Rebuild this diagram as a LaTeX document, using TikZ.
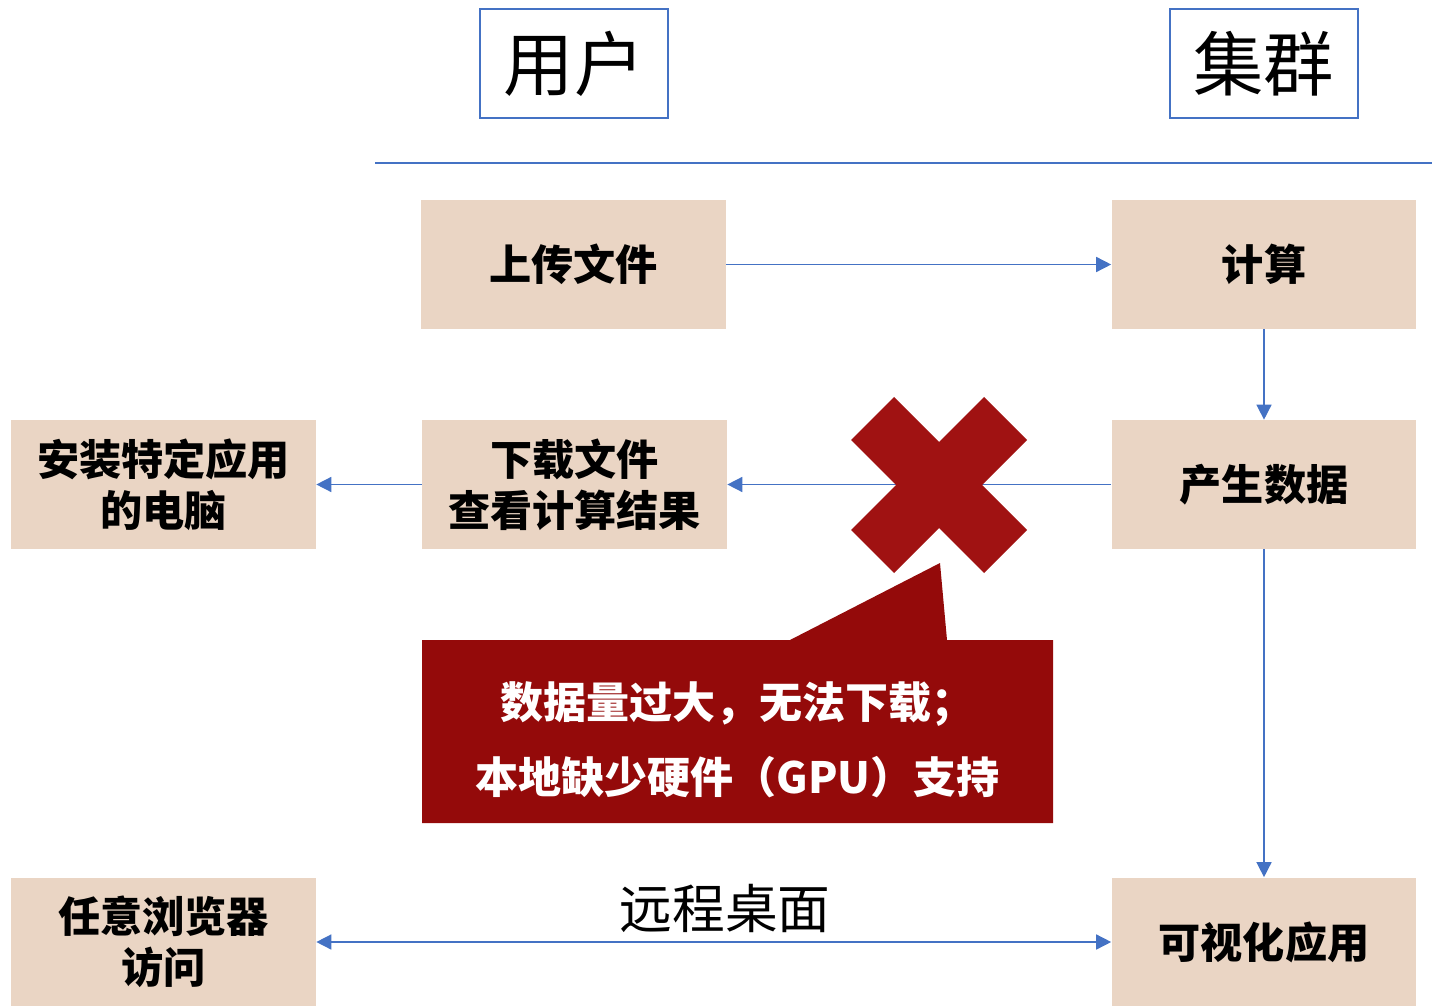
\documentclass[tikz,border=0pt]{standalone}
\usepackage{fontspec}
\setmainfont{Noto Sans CJK SC}
\usetikzlibrary{arrows.meta, positioning}
\definecolor{boxfill}{HTML}{EAD5C4}
\definecolor{linkblue}{HTML}{4472C4}
\definecolor{crossred}{HTML}{A01212}
\definecolor{notered}{HTML}{940A0A}
\tikzset{
  stepbox/.style={
    fill = boxfill,
    minimum width = 6.1cm,
    minimum height = 2.58cm,
    inner sep = 0,
    align = center,
    font = \fontsize{24}{29}\selectfont\bfseries
  },
  sidehead/.style={
    draw = linkblue,
    line width = 0.04cm,
    minimum width = 3.76cm,
    minimum height = 2.18cm,
    inner sep = 0,
    font = \fontsize{40}{42}\selectfont
  },
  flow/.style={
    draw = linkblue,
    line width = 0.03cm,
    arrows = {-Triangle[length=0.3cm, width=0.3cm]}
  },
  twoway/.style={
    flow,
    arrows = {Triangle[length=0.3cm, width=0.3cm]-Triangle[length=0.3cm, width=0.3cm]}
  },
  notetext/.style={
    text = white,
    align = center,
    font = \fontsize{24.5}{43}\selectfont\bfseries
  }
}

\begin{document}
\begin{tikzpicture}[x=0.02cm, y=-0.02cm]
    \useasboundingbox (0,0) rectangle (1432,1006);
    % headings
    \node[sidehead] (user) at (574,63.5) {用户};
    \node[sidehead] (cluster) at (1263.5,63.5) {集群};
    \coordinate (ruleleft) at (375,163);
    \coordinate (ruleright) at (1432,163);
    \draw[linkblue, line width=0.03cm] (ruleleft) -- (ruleright);

    % steps
    \node[stepbox] (upload) at (573.5,264.5) {上传文件};
    \node[stepbox] (compute) at (1264,264.5) {计算};
    \node[stepbox] (produce) at (1264,484.5) {产生数据};
    \node[stepbox] (download) at (574.5,484.5) {下载文件\\查看计算结果};
    \node[stepbox] (install) at (163.5,484.5) {安装特定应用\\的电脑};
    \node[stepbox] (visual) at (1264,942) {可视化应用};
    \node[stepbox] (browser) at (163.5,942) {任意浏览器\\访问};

    \draw[flow] (upload) -- (compute);
    \draw[flow] (compute) -- (produce);
    \draw[flow] (produce) -- (download);
    \draw[flow] (download) -- (install);
    \draw[flow] (produce) -- (visual);
    \draw[twoway] (browser) -- (visual);
    \node (remote) at (725,908) {\fontsize{30}{32}\selectfont 远程桌面};

    % blocked path
    \fill[crossred] (939,485) ++(-45,-88) -- ++(45,45) -- ++(45,-45) -- ++(43,43)
      -- ++(-45,45) -- ++(45,45) -- ++(-43,43) -- ++(-45,-45) -- ++(-45,45)
      -- ++(-43,-43) -- ++(45,-45) -- ++(-45,-45) -- cycle;
    \fill[notered] (422,640) -- (790,640) -- (940,563) -- (947,640) -- (1053,640)
      -- (1053,823) -- (422,823) -- cycle;
    \node[notetext] (reason) at (737.5,740) {数据量过大，无法下载；\\本地缺少硬件（GPU）支持};
\end{tikzpicture}
\end{document}
